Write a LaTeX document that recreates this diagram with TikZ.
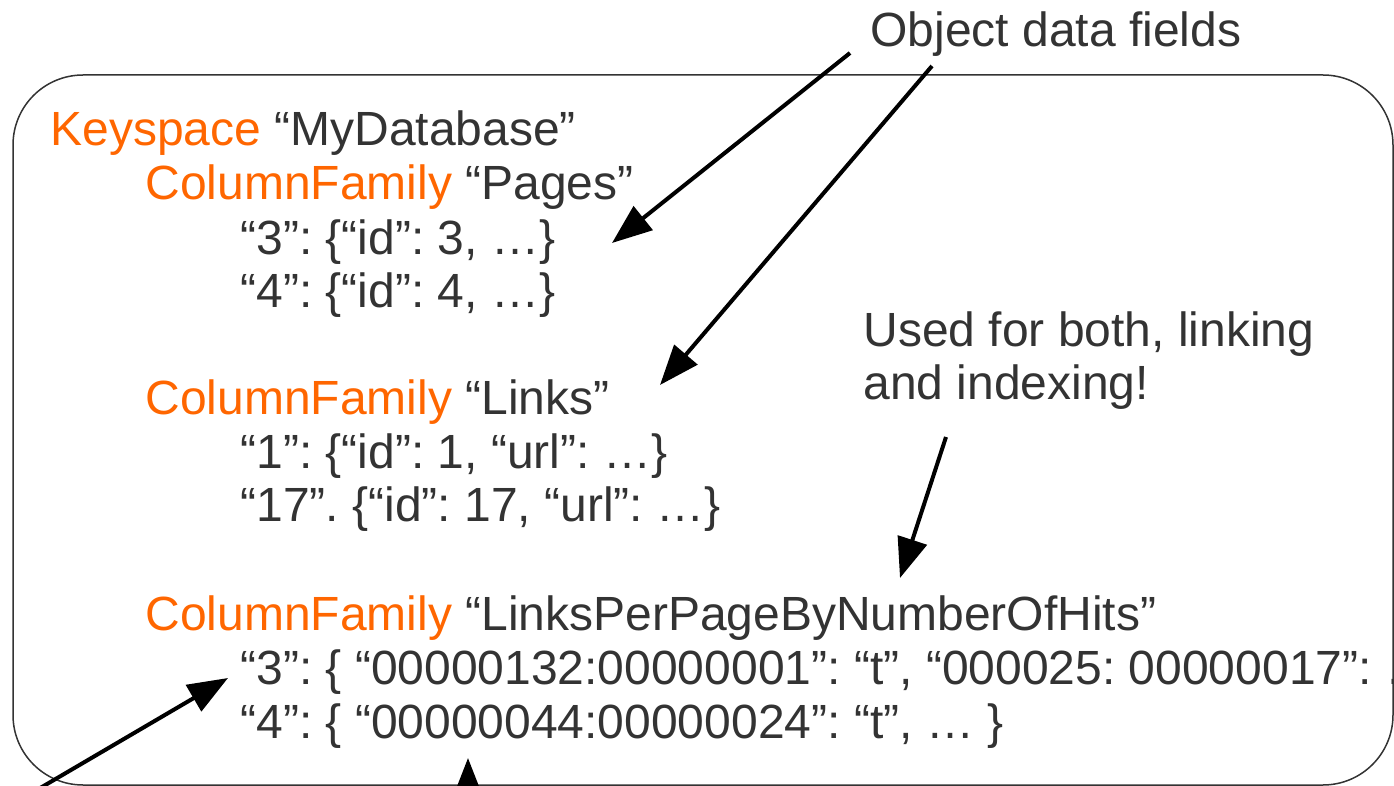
\documentclass[tikz,border=0pt]{standalone}
\usepackage{fontspec}
\setmainfont{Liberation Sans}
\usepackage{xcolor}
\usetikzlibrary{arrows.meta,positioning}
\definecolor{kwOrange}{HTML}{FF6600}
\definecolor{txtGray}{HTML}{333333}
\newcommand{\kw}[1]{\textcolor{kwOrange}{#1}}
\frenchspacing

\begin{document}
\begin{tikzpicture}[x=0.5pt, y=-0.5pt,
    every node/.style={font=\fontsize{24}{28}\selectfont, text=txtGray, inner sep=0pt, anchor=base west},
    pointer/.style={line width=2pt, -{Triangle[length=20pt, width=15pt]}}]
    \useasboundingbox (0,0) rectangle (1394,786);

    % Frame
    \draw[line width=0.75pt, draw=black!80, rounded corners=35pt] (13,75) rectangle (1393,785);

    % Keyspace and column families
    \node (ks) at (50,146) {\kw{Keyspace} “MyDatabase”};
    \node (cfPages) at (145,200) {\kw{ColumnFamily} “Pages”};
    \node (pg3) at (240,255) {“3”: \{“id”: 3, …\}};
    \node (pg4) at (240,308) {“4”: \{“id”: 4, …\}};

    \node (cfLinks) at (145,415) {\kw{ColumnFamily} “Links”};
    \node (ln1) at (240,469) {“1”: \{“id”: 1, “url”: …\}};
    \node (ln17) at (240,522) {“17”. \{“id”: 17, “url”: …\}};

    \node (cfHits) at (145,630) {\kw{ColumnFamily} “LinksPerPageByNumberOfHits”};
    \node (hit3) at (240,684) {“3”: \{ “00000132:00000001”: “t”, “000025: 00000017”: …};
    \node (hit4) at (240,738) {“4”: \{ “00000044:00000024”: “t”, … \}};

    % Notes
    \node (fields) at (870,47) {Object data fields};
    \node (both) at (863,347) {Used for both, linking};
    \node (both2) at (863,400) {and indexing!};

    % Arrows
    \coordinate (fa) at (850,53);
    \coordinate (fb) at (932,66);
    \coordinate (ta) at (612,243);
    \coordinate (tb) at (660,385);
    \coordinate (ba) at (946,437);
    \coordinate (tc) at (900,578);
    \coordinate (la) at (30,794);
    \coordinate (td) at (228,678);
    \coordinate (ma) at (468,840);
    \coordinate (te) at (468,758);
    \draw[pointer] (fa) -- (ta);
    \draw[pointer] (fb) -- (tb);
    \draw[pointer] (ba) -- (tc);
    \draw[pointer] (la) -- (td);
    \draw[pointer] (ma) -- (te);
\end{tikzpicture}
\end{document}
